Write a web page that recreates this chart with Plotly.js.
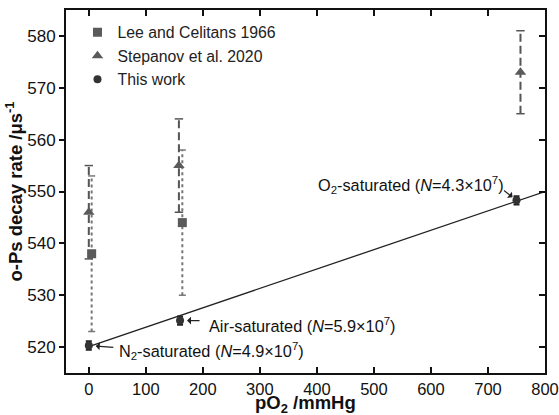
<!DOCTYPE html>
<html>
<head>
<meta charset="utf-8">
<script src="https://cdn.plot.ly/plotly-3.0.1.min.js"></script>
<style>html,body{margin:0;padding:0;background:#fff;}#chart{width:559px;height:415px;}</style>
</head>
<body>
<div id="chart"></div>
<script>
// ---- data ----
const leeX = [5, 164];
const leeY = [538, 544];
const leeErr = [15, 14];

const stepX = [0, 158, 757];
const stepY = [546, 555, 573];
const stepErr = [9, 9, 8];

const workX = [0, 160, 750];
const workY = [520.3, 525.1, 548.3];
const workErr = [0.8, 0.8, 0.8];

const fitX = [0, 800];
const fitY = [520.1, 550];

const xTicks = [0, 100, 200, 300, 400, 500, 600, 700, 800];
const yTicks = [520, 530, 540, 550, 560, 570, 580];

const labels = [
  {text: 'N<sub>2</sub>-saturated (<i>N</i>=4.9×10<sup>7</sup>)', x: 49, y: 519.3, anchor: 'left'},
  {text: 'Air-saturated (<i>N</i>=5.9×10<sup>7</sup>)', x: 207, y: 524.3, anchor: 'left'},
  {text: 'O<sub>2</sub>-saturated (<i>N</i>=4.3×10<sup>7</sup>)', x: 731, y: 551.2, anchor: 'right'}
];

// build error-bar segments from the data arrays
function segs(xs, ys, es) {
  const X = [], Y = [];
  xs.forEach((x, i) => { X.push(x, x, null); Y.push(ys[i] - es[i], ys[i] + es[i], null); });
  return {X, Y};
}
function caps(xs, ys, es) {
  const X = [], Y = [];
  xs.forEach((x, i) => { X.push(x, x); Y.push(ys[i] - es[i], ys[i] + es[i]); });
  return {X, Y};
}
const leeS = segs(leeX, leeY, leeErr), leeC = caps(leeX, leeY, leeErr);
const stS = segs(stepX, stepY, stepErr), stC = caps(stepX, stepY, stepErr);

const font = 'Liberation Sans, Arial, Helvetica, sans-serif';

const traces = [
  {x: leeS.X, y: leeS.Y, mode: 'lines', line: {color: '#777', width: 2, dash: 'dot'}, showlegend: false, hoverinfo: 'skip'},
  {x: leeC.X, y: leeC.Y, mode: 'markers', marker: {symbol: 'line-ew-open', size: 5, color: '#777', line: {color: '#777', width: 1.5}}, showlegend: false, hoverinfo: 'skip'},
  {x: stS.X, y: stS.Y, mode: 'lines', line: {color: '#555', width: 2, dash: '8px,4px'}, showlegend: false, hoverinfo: 'skip'},
  {x: stC.X, y: stC.Y, mode: 'markers', marker: {symbol: 'line-ew-open', size: 6, color: '#555', line: {color: '#555', width: 1.5}}, showlegend: false, hoverinfo: 'skip'},
  {x: fitX, y: fitY, mode: 'lines', line: {color: '#222', width: 1.3}, showlegend: false, hoverinfo: 'skip'},
  {x: leeX, y: leeY, mode: 'markers', name: 'Lee and Celitans 1966', marker: {symbol: 'square', size: 9, color: '#5a5a5a'}},
  {x: stepX, y: stepY, mode: 'markers', name: 'Stepanov et al. 2020', marker: {symbol: 'triangle-up', size: 10, color: '#5a5a5a'}},
  {x: workX, y: workY, mode: 'markers', name: 'This work', marker: {symbol: 'circle', size: 8, color: '#333'},
   error_y: {type: 'data', array: workErr, visible: true, color: '#222', thickness: 2, width: 3}},
  {x: [], y: [], xaxis: 'x2', yaxis: 'y2', showlegend: false}
];

const annotations = [];
labels.forEach(l => annotations.push({
  text: l.text, x: l.x, y: l.y, xref: 'x', yref: 'y', xanchor: l.anchor, yanchor: 'middle',
  showarrow: false, font: {family: font, size: 16.3, color: '#111'}
}));
// arrows
const arrows = [
  {x: workX[0], y: workY[0], ax: 26, ay: 2, standoff: 7},
  {x: workX[1], y: workY[1], ax: 21, ay: 0, standoff: 7},
  {x: workX[2], y: workY[2], ax: -14, ay: -11, standoff: 5}
];
arrows.forEach(a => annotations.push({
  text: '', x: a.x, y: a.y, xref: 'x', yref: 'y', ax: a.ax, ay: a.ay, axref: 'pixel', ayref: 'pixel',
  showarrow: true, arrowhead: 1, arrowsize: 1.2, arrowwidth: 1.1, arrowcolor: '#222', standoff: a.standoff
}));
// x-axis title as paper annotation
annotations.push({
  text: '<b>pO<sub>2</sub> /mmHg</b>', xref: 'paper', yref: 'paper', x: 0.5, y: -0.085,
  xanchor: 'center', yanchor: 'middle', showarrow: false, font: {family: font, size: 18.5, color: '#111'}
});

const layout = {
  width: 559, height: 415,
  margin: {l: 66, r: 14, t: 10, b: 42},
  paper_bgcolor: '#fff', plot_bgcolor: '#fff',
  font: {family: font, color: '#111'},
  showlegend: true,
  legend: {x: 0.024, y: 0.985, xanchor: 'left', yanchor: 'top', bgcolor: 'rgba(0,0,0,0)',
           font: {family: font, size: 15.8, color: '#222'}, tracegroupgap: 0},
  xaxis: {range: [-40, 800], tickvals: xTicks, ticks: 'inside', ticklen: 6, tickwidth: 2, tickcolor: '#111',
          showline: true, linewidth: 2, linecolor: '#111', showgrid: false, zeroline: false,
          ticklabeloverflow: 'allow',
          tickfont: {family: font, size: 16.5, color: '#111'}},
  xaxis2: {range: [-40, 800], overlaying: 'x', side: 'top', tickvals: xTicks, ticks: 'inside', ticklen: 6, tickwidth: 2,
           tickcolor: '#111', showline: true, linewidth: 2, linecolor: '#111', showgrid: false, zeroline: false, showticklabels: false},
  yaxis: {range: [515, 585], tickvals: yTicks, ticks: 'outside', ticklen: 5, tickwidth: 2, tickcolor: '#111',
          showline: true, linewidth: 2, linecolor: '#111', showgrid: false, zeroline: false,
          tickfont: {family: font, size: 17, color: '#111'},
          title: {text: '<b>o-Ps decay rate /μs<sup>-1</sup></b>', font: {family: font, size: 18.5, color: '#111'}, standoff: 0}},
  yaxis2: {range: [515, 585], overlaying: 'y', side: 'right', tickvals: yTicks, ticks: 'inside', ticklen: 6, tickwidth: 2,
           tickcolor: '#111', showline: true, linewidth: 2, linecolor: '#111', showgrid: false, zeroline: false, showticklabels: false},
  annotations: annotations
};

Plotly.newPlot('chart', traces, layout, {staticPlot: true, displayModeBar: false});
</script>
</body>
</html>
